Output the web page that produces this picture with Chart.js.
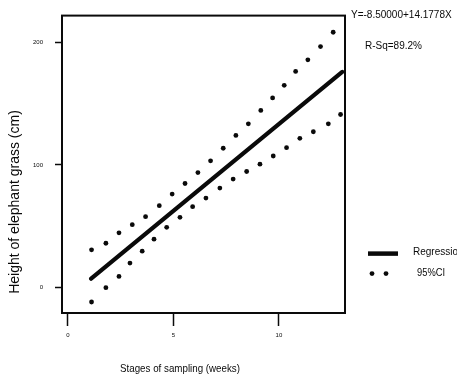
<!DOCTYPE html>
<html>
<head>
<meta charset="utf-8">
<script src="https://cdn.jsdelivr.net/npm/chart.js@4/dist/chart.umd.min.js"></script>
<style>
  html, body { margin: 0; padding: 0; background: #ffffff; }
  #wrap { width: 457px; height: 381px; }
</style>
</head>
<body>
<div id="wrap"><canvas id="c" width="457" height="381"></canvas></div>
<script>
// ---- data ----
const xTicks = [0, 5, 10];
const yTicks = [0, 100, 200];
const regressionX = [1.1, 13.0];
const regressionY = [7, 176];
const ciUpperX = [1.12, 1.80, 2.42, 3.05, 3.68, 4.33, 4.94, 5.55, 6.16, 6.76, 7.36, 7.96, 8.55, 9.14, 9.70, 10.25, 10.79, 11.37, 11.97, 12.57];
const ciUpperY = [30.6, 36.0, 44.5, 51.2, 57.7, 66.7, 76.2, 84.8, 93.7, 103.3, 113.6, 124.1, 133.6, 144.5, 154.7, 165.0, 176.4, 185.9, 196.7, 208.4];
const ciLowerX = [1.12, 1.80, 2.42, 2.94, 3.52, 4.08, 4.68, 5.31, 5.91, 6.54, 7.20, 7.83, 8.47, 9.10, 9.73, 10.36, 10.99, 11.63, 12.34, 12.92];
const ciLowerY = [-12.0, -0.3, 8.9, 19.8, 29.5, 39.3, 49.0, 57.2, 65.9, 72.9, 81.1, 88.4, 94.6, 100.6, 107.3, 114.1, 121.7, 127.1, 133.6, 141.2];
const equationText = "Y=-8.50000+14.1778X";
const rsqText = "R-Sq=89.2%";
const xTitle = "Stages of sampling (weeks)";
const yTitle = "Height of elephant grass (cm)";
const legendLabels = ["Regression", "95%CI"];

const pts = (xs, ys) => xs.map((x, i) => ({ x: x, y: ys[i] }));
const INK = "#0a0a0a";
const FONT = "'Liberation Sans', Arial, sans-serif";

const annotations = {
  id: "annotations",
  afterDraw(chart) {
    const ctx = chart.ctx;
    const a = chart.chartArea;
    ctx.save();
    // frame
    ctx.strokeStyle = INK;
    ctx.lineWidth = 2;
    ctx.strokeRect(a.left, a.top, a.right - a.left, a.bottom - a.top);
    ctx.fillStyle = INK;
    ctx.textBaseline = "middle";
    // equation & R-Sq
    ctx.textAlign = "left";
    ctx.font = "10px " + FONT;
    ctx.fillText(equationText, a.right + 6, a.top, 106);
    ctx.fillText(rsqText, a.right + 20, a.top + 31, 58);
    // legend
    ctx.lineWidth = 4.5;
    ctx.beginPath();
    ctx.moveTo(a.right + 23, a.top + 238);
    ctx.lineTo(a.right + 53, a.top + 238);
    ctx.stroke();
    ctx.beginPath(); ctx.arc(a.right + 27, a.top + 258, 2.4, 0, Math.PI * 2); ctx.fill();
    ctx.beginPath(); ctx.arc(a.right + 41, a.top + 258, 2.4, 0, Math.PI * 2); ctx.fill();
    ctx.font = "10px " + FONT;
    ctx.fillText(legendLabels[0], a.right + 68, a.top + 237);
    ctx.fillText(legendLabels[1], a.right + 72, a.top + 258, 28);
    // x title
    ctx.textAlign = "center";
    ctx.font = "11px " + FONT;
    ctx.fillText(xTitle, 180, 369, 120);
    // y title
    ctx.translate(15, 202);
    ctx.rotate(-Math.PI / 2);
    ctx.font = "14px " + FONT;
    ctx.fillText(yTitle, 0, 0, 225);
    ctx.restore();
  }
};

new Chart(document.getElementById("c"), {
  type: "scatter",
  data: {
    datasets: [
      {
        label: legendLabels[0],
        data: pts(regressionX, regressionY),
        showLine: true,
        borderColor: INK,
        borderWidth: 4.2,
        pointRadius: 0,
        borderCapStyle: "round"
      },
      {
        label: legendLabels[1] + " upper",
        data: pts(ciUpperX, ciUpperY),
        showLine: false,
        pointRadius: 2.4,
        pointBackgroundColor: INK,
        pointBorderWidth: 0
      },
      {
        label: legendLabels[1] + " lower",
        data: pts(ciLowerX, ciLowerY),
        showLine: false,
        pointRadius: 2.4,
        pointBackgroundColor: INK,
        pointBorderWidth: 0
      }
    ]
  },
  options: {
    responsive: false,
    animation: false,
    layout: { padding: { left: 0, top: 14, right: 112, bottom: 0 } },
    plugins: { legend: { display: false }, tooltip: { enabled: false } },
    scales: {
      x: {
        type: "linear",
        min: -0.28,
        max: 13.13,
        afterBuildTicks: s => { s.ticks = xTicks.map(v => ({ value: v })); },
        afterFit: s => { s.height = 68; },
        grid: { display: true, drawOnChartArea: false, drawTicks: true, tickLength: 13, tickColor: INK, tickWidth: 1.5 },
        border: { display: true, color: INK, width: 2 },
        ticks: { color: INK, font: { size: 6, family: FONT }, padding: 6, maxRotation: 0 }
      },
      y: {
        type: "linear",
        min: -21,
        max: 222,
        afterBuildTicks: s => { s.ticks = yTicks.map(v => ({ value: v })); },
        afterFit: s => { s.width = 62; },
        grid: { display: true, drawOnChartArea: false, drawTicks: true, tickLength: 7, tickColor: INK, tickWidth: 1.5 },
        border: { display: true, color: INK, width: 2 },
        ticks: { color: INK, font: { size: 6, family: FONT }, padding: 12 }
      }
    }
  },
  plugins: [annotations]
});
</script>
</body>
</html>
